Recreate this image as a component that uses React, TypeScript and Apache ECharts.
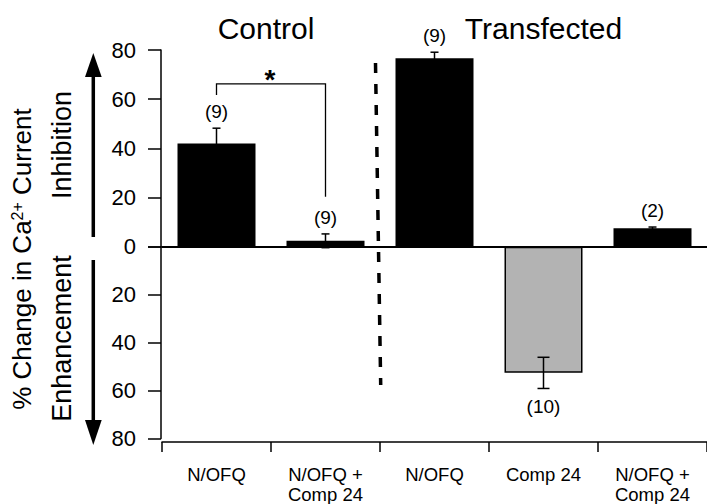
import React, { useEffect, useRef } from 'react';
import * as echarts from 'echarts';

// ---- data ----
const categories = ['N/OFQ', 'N/OFQ +\nComp 24', 'N/OFQ', 'Comp 24', 'N/OFQ +\nComp 24'];
const groupTitles = ['Control', 'Transfected'];
const meanChange = [42.0, 2.4, 76.6, -52.6, 7.5];
const semChange = [6.2, 2.8, 2.5, 6.5, 0.5];
const nCells = [9, 9, 9, 10, 2];
// [fromIndex, toIndex, bracketTop, leftLegEnd, rightLegEnd]
const sigBracket = [[0, 1, 66.2, 61.7, 20.3]];
const sigMark = '*';
const yAxisTitle = '% Change in Ca{sup|2+} Current';
const upLabel = 'Inhibition';
const downLabel = 'Enhancement';

const FONT = "'Liberation Sans', Arial, Helvetica, sans-serif";
const BLACK = '#000000';

function errorRender(params: any, api: any) {
  const idx = api.value(0);
  const v = api.value(1);
  const se = api.value(2);
  const n = api.value(3);
  const hi = api.coord([idx, v + se]);
  const lo = api.coord([idx, v - se]);
  const x = hi[0];
  const cap = v < 0 ? 6 : 4;
  const labelY = v >= 0 ? hi[1] - 16.7 : lo[1] + 18;
  const ls = { stroke: BLACK, lineWidth: 1.5 };
  return {
    type: 'group',
    children: [
      { type: 'line', shape: { x1: x, y1: hi[1], x2: x, y2: lo[1] }, style: ls },
      { type: 'line', shape: { x1: x - cap, y1: hi[1], x2: x + cap, y2: hi[1] }, style: ls },
      { type: 'line', shape: { x1: x - cap, y1: lo[1], x2: x + cap, y2: lo[1] }, style: ls },
      {
        type: 'text',
        x,
        y: labelY,
        style: {
          text: '(' + n + ')',
          fontSize: 19,
          fontFamily: FONT,
          fill: BLACK,
          align: 'center',
          verticalAlign: 'middle',
          textAlign: 'center',
          textVerticalAlign: 'middle',
        },
      },
    ],
  };
}

function bracketRender(params: any, api: any) {
  const a = api.value(0);
  const b = api.value(1);
  const top = api.value(2);
  const aEnd = api.coord([a, api.value(3)]);
  const aTop = api.coord([a, top]);
  const bTop = api.coord([b, top]);
  const bEnd = api.coord([b, api.value(4)]);
  return {
    type: 'group',
    children: [
      {
        type: 'polyline',
        shape: { points: [aEnd, aTop, bTop, bEnd] },
        style: { stroke: BLACK, lineWidth: 1.3, fill: 'none' },
      },
      {
        type: 'text',
        x: (aTop[0] + bTop[0]) / 2 - 1,
        y: aTop[1] - 4,
        style: {
          text: sigMark,
          fontSize: 28,
          fontWeight: 'bold',
          fontFamily: FONT,
          fill: BLACK,
          align: 'center',
          verticalAlign: 'middle',
          textAlign: 'center',
          textVerticalAlign: 'middle',
        },
      },
    ],
  };
}

export default function App() {
  const ref = useRef<HTMLDivElement>(null);

  useEffect(() => {
    if (!ref.current) return;
    const chart = echarts.init(ref.current, null, { renderer: 'svg' });
    const axisLineStyle = { color: BLACK, width: 1.5 };
    const errData = meanChange.map((v, i) => [i, v, semChange[i], nCells[i]]);

    const textStyle = (size: number) => ({
      fontSize: size,
      fontFamily: FONT,
      fill: BLACK,
      align: 'center',
      verticalAlign: 'middle',
      textAlign: 'center',
      textVerticalAlign: 'middle',
    });

    const option: any = {
      animation: false,
      backgroundColor: '#ffffff',
      grid: [
        { left: 162, right: -2.5, top: 50, height: 196.7 },
        { left: 162, right: -2.5, top: 246.7, height: 192.6 },
      ],
      xAxis: [
        {
          type: 'category',
          gridIndex: 0,
          data: categories,
          position: 'bottom',
          axisLine: { show: true, onZero: false, lineStyle: { color: BLACK, width: 1.8 } },
          axisTick: { show: false },
          axisLabel: { show: false },
          splitLine: { show: false },
        },
        {
          type: 'category',
          gridIndex: 1,
          data: categories,
          position: 'bottom',
          offset: 3.4,
          axisLine: { show: true, onZero: false, lineStyle: axisLineStyle },
          axisTick: { show: true, length: 10, lineStyle: axisLineStyle },
          axisLabel: {
            show: true,
            interval: 0,
            fontSize: 18.5,
            lineHeight: 20,
            margin: 22,
            color: BLACK,
            fontFamily: FONT,
          },
          splitLine: { show: false },
        },
      ],
      yAxis: [
        {
          type: 'value',
          gridIndex: 0,
          min: 0,
          max: 80,
          interval: 20,
          offset: 1,
          axisLine: { show: true, lineStyle: axisLineStyle },
          axisTick: { show: true, length: 13, lineStyle: axisLineStyle },
          axisLabel: { fontSize: 22, margin: 25, color: BLACK, fontFamily: FONT },
          splitLine: { show: false },
        },
        {
          type: 'value',
          gridIndex: 1,
          min: -80,
          max: 0,
          interval: 20,
          offset: 1,
          axisLine: { show: true, lineStyle: axisLineStyle },
          axisTick: { show: true, length: 13, lineStyle: axisLineStyle },
          axisLabel: {
            fontSize: 22,
            margin: 25,
            color: BLACK,
            fontFamily: FONT,
            formatter: (v: number) => (v === 0 ? '' : String(Math.abs(v))),
          },
          splitLine: { show: false },
        },
      ],
      series: [
        {
          type: 'bar',
          xAxisIndex: 0,
          yAxisIndex: 0,
          barWidth: 78,
          data: meanChange.map((v) => (v >= 0 ? v : '-')),
          itemStyle: { color: BLACK },
          z: 2,
        },
        {
          type: 'bar',
          xAxisIndex: 1,
          yAxisIndex: 1,
          barWidth: 78,
          data: meanChange.map((v) => (v < 0 ? v : '-')),
          itemStyle: { color: '#b3b3b3', borderColor: BLACK, borderWidth: 1.5 },
          z: 2,
        },
        {
          type: 'custom',
          xAxisIndex: 0,
          yAxisIndex: 0,
          clip: false,
          z: 4,
          encode: { x: 0, y: 1 },
          data: errData.filter((d) => d[1] >= 0),
          renderItem: errorRender,
        },
        {
          type: 'custom',
          xAxisIndex: 1,
          yAxisIndex: 1,
          clip: false,
          z: 4,
          encode: { x: 0, y: 1 },
          data: errData.filter((d) => d[1] < 0),
          renderItem: errorRender,
        },
        {
          type: 'custom',
          xAxisIndex: 0,
          yAxisIndex: 0,
          clip: false,
          z: 4,
          encode: { x: 0, y: 2 },
          data: sigBracket,
          renderItem: bracketRender,
        },
      ],
      graphic: [
        { type: 'text', x: 266, y: 28, style: { text: groupTitles[0], ...textStyle(30) } },
        { type: 'text', x: 543.5, y: 28, style: { text: groupTitles[1], ...textStyle(30) } },
        {
          type: 'text',
          x: 22,
          y: 259,
          rotation: Math.PI / 2,
          style: {
            text: yAxisTitle,
            ...textStyle(26),
            rich: {
              sup: { fontSize: 16, fontFamily: FONT, fill: BLACK, verticalAlign: 'top', lineHeight: 26 },
            },
          },
        },
        { type: 'text', x: 62, y: 145, rotation: Math.PI / 2, style: { text: upLabel, ...textStyle(27) } },
        { type: 'text', x: 62, y: 338.5, rotation: Math.PI / 2, style: { text: downLabel, ...textStyle(27) } },
        { type: 'line', shape: { x1: 93.3, y1: 237, x2: 93.3, y2: 72 }, style: { stroke: BLACK, lineWidth: 3.5 } },
        {
          type: 'polygon',
          shape: { points: [[85, 77], [101.7, 77], [93.3, 53]] },
          style: { fill: BLACK },
        },
        { type: 'line', shape: { x1: 93.3, y1: 260, x2: 93.3, y2: 425 }, style: { stroke: BLACK, lineWidth: 3.5 } },
        {
          type: 'polygon',
          shape: { points: [[85, 420], [101.7, 420], [93.3, 445]] },
          style: { fill: BLACK },
        },
        {
          type: 'line',
          shape: { x1: 375.5, y1: 63, x2: 380.7, y2: 385 },
          style: { stroke: BLACK, lineWidth: 3.5, lineDash: [10, 11] },
        },
      ],
    };
    chart.setOption(option);
    return () => chart.dispose();
  }, []);

  return <div ref={ref} style={{ width: 707, height: 504, position: 'fixed', left: 0, top: 0 }} />;
}
